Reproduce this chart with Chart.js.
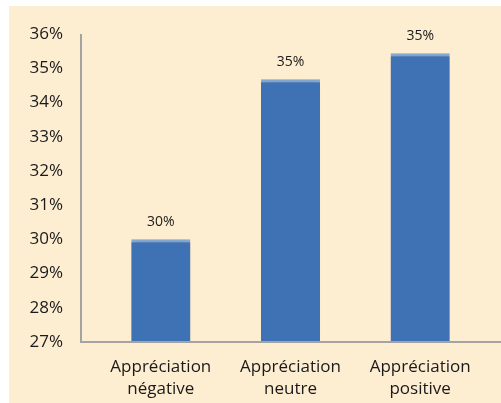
<!DOCTYPE html>
<html>
<head>
<meta charset="utf-8">
<script src="https://cdn.jsdelivr.net/npm/chart.js@4/dist/chart.umd.min.js"></script>
<style>
  html, body { margin: 0; padding: 0; background: #fff; }
  #wrap {
    position: absolute; left: 9px; top: 6px;
    width: 492px; height: 397px;
    background: #fdedd1;
  }
</style>
</head>
<body>
<div id="wrap"><canvas id="chart"></canvas></div>
<script>
// data
const categories = [["Appréciation", "négative"], ["Appréciation", "neutre"], ["Appréciation", "positive"]];
const values = [30.0, 34.68, 35.44];
const yMin = 27;
const yMax = 36;

// value labels above the bars
const valueLabels = {
  id: "valueLabels",
  afterDatasetsDraw(chart) {
    const ctx = chart.ctx;
    const meta = chart.getDatasetMeta(0);
    ctx.save();
    ctx.font = "14px 'Open Sans'";
    ctx.fillStyle = "#1a1a1a";
    ctx.textAlign = "center";
    ctx.textBaseline = "middle";
    meta.data.forEach((bar, i) => {
      ctx.fillText(Math.round(values[i]) + "%", bar.x, bar.y - 17);
    });
    ctx.restore();
  }
};

// axis lines: the y line sits a bit left of the first category band,
// the x line runs to the edge like in the original
const axisGap = 15;
const axisLines = {
  id: "axisLines",
  afterDatasetsDraw(chart) {
    const a = chart.chartArea;
    const ctx = chart.ctx;
    ctx.save();
    ctx.strokeStyle = "#a3a3a3";
    ctx.lineWidth = 2;
    ctx.beginPath();
    ctx.moveTo(a.left - axisGap, a.top);
    ctx.lineTo(a.left - axisGap, a.bottom);
    ctx.lineTo(chart.width, a.bottom);
    ctx.stroke();
    ctx.restore();
  }
};

// soft shadow under bars
const barShadow = {
  id: "barShadow",
  beforeDatasetsDraw(chart) {
    chart.ctx.save();
    chart.ctx.shadowColor = "rgba(0,0,0,0.35)";
    chart.ctx.shadowBlur = 5;
    chart.ctx.shadowOffsetY = 2;
  },
  afterDatasetsDraw(chart) {
    chart.ctx.restore();
  }
};

function barFill(context) {
  const chart = context.chart;
  const bar = chart.getDatasetMeta(0).data[context.dataIndex];
  if (!bar || bar.width === undefined) return "#3f72b5";
  const x0 = bar.x - bar.width / 2;
  const g = chart.ctx.createLinearGradient(x0, 0, x0 + bar.width, 0);
  g.addColorStop(0, "#3764a6");
  g.addColorStop(0.3, "#4275b8");
  g.addColorStop(0.7, "#4174b7");
  g.addColorStop(1, "#3663a4");
  return g;
}

new Chart(document.getElementById("chart"), {
  type: "bar",
  data: {
    labels: categories,
    datasets: [{
      data: values,
      backgroundColor: barFill,
      borderColor: "#86aedb",
      borderWidth: { top: 3, left: 0, right: 0, bottom: 0 },
      borderSkipped: false,
      categoryPercentage: 1,
      barPercentage: 0.456
    }]
  },
  options: {
    responsive: true,
    maintainAspectRatio: false,
    animation: false,
    layout: { padding: { top: 28, right: 16, left: 0, bottom: 0 } },
    plugins: {
      legend: { display: false },
      tooltip: { enabled: false }
    },
    scales: {
      x: {
        grid: { display: false, drawTicks: false },
        border: { display: false },
        ticks: {
          color: "#1a1a1a",
          font: { family: "'Open Sans'", size: 17, lineHeight: 1.3 },
          padding: 14,
          maxRotation: 0
        },
        afterFit(scale) { scale.height = 61; }
      },
      y: {
        min: yMin,
        max: yMax,
        grid: { display: false, drawTicks: false },
        border: { display: false },
        ticks: {
          stepSize: 1,
          color: "#1a1a1a",
          font: { family: "'Open Sans'", size: 17 },
          padding: 33,
          callback: v => v + "%"
        },
        afterFit(scale) {
          scale.width = 87;
          // tick padding would otherwise push the plot down
          scale.paddingTop = 0;
          scale.paddingBottom = 0;
        }
      }
    }
  },
  plugins: [barShadow, axisLines, valueLabels]
});
</script>
</body>
</html>
